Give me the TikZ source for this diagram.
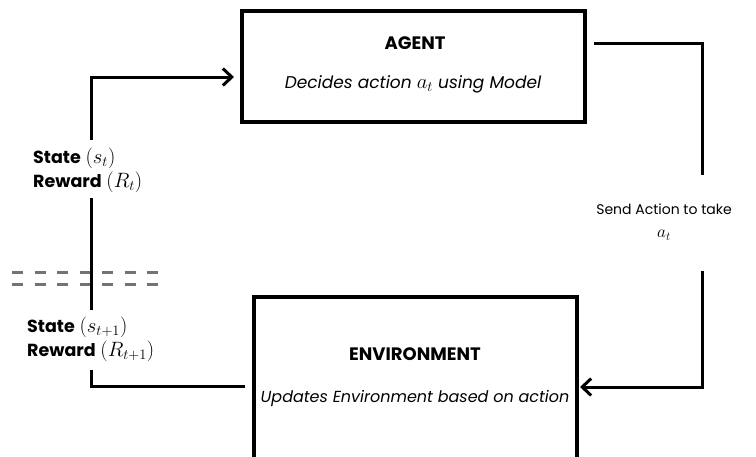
\documentclass[tikz,border=0pt]{standalone}
\usepackage{fontspec}
\setmainfont{Poppins}
\usetikzlibrary{arrows.meta}
\newcommand\mbig[1]{{\fontsize{21}{24}\selectfont$#1$}}
\newcommand\msmall[1]{{\fontsize{17}{23}\selectfont$#1$}}
\begin{document}
\begin{tikzpicture}[x=1pt,y=-1pt,
  box/.style={draw,line width=3.2pt,rectangle,inner sep=0pt},
  conn/.style={line width=3pt},
  arr/.style={conn,-{Straight Barb[length=9pt,width=17pt,line width=3pt]}},
  lbl/.style={font=\fontsize{17.5}{24}\selectfont,inner sep=0pt},
  dsh/.style={draw=black!55,line width=3pt,dash pattern=on 11pt off 11.5pt}]
\useasboundingbox (0,0) rectangle (756,456);
\clip (0,0) rectangle (756,456);
% boxes
\node[box,minimum width=343pt,minimum height=111pt] (agent) at (413.5,66.5) {};
\node[box,minimum width=323pt,minimum height=190pt] (env) at (415.5,392) {};
% texts
\node[lbl,font=\fontsize{18}{20}\selectfont\bfseries] (agentT) at (415,43) {AGENT};
\node[lbl,font=\fontsize{17}{20}\selectfont\itshape] (agentD) at (413,84) {Decides action \mbig{a_t} using Model};
\node[lbl,font=\fontsize{18}{20}\selectfont\bfseries] (envT) at (415,354) {ENVIRONMENT};
\node[lbl,font=\fontsize{16}{20}\selectfont\itshape] (envD) at (415,398) {Updates Environment based on action};
\node[lbl,align=center,font=\fontsize{14}{23}\selectfont] (send) at (664,222) {Send Action to take\\\msmall{a_t}};
\node[lbl,align=left,anchor=west] (st) at (33,170) {\textbf{State} \mbig{(s_t)}\\\textbf{Reward} \mbig{(R_t)}};
\node[lbl,align=left,anchor=west] (st1) at (27,339) {\textbf{State} \mbig{(s_{t+1})}\\\textbf{Reward} \mbig{(R_{t+1})}};
% coordinates
\coordinate (r1) at (594,43);
\coordinate (r2) at (702,175);
\coordinate (r3) at (702,271);
\coordinate (r4) at (580,387);
\coordinate (l1) at (245,386);
\coordinate (l2) at (91,370);
\coordinate (l3) at (91,310);
\coordinate (l4) at (91,198);
\coordinate (l5) at (91,140);
\coordinate (l6) at (234,77);
% dashed
\draw[dsh] (12,272) -- (168,272);
\draw[dsh] (12,284) -- (168,284);
% connectors
\draw[conn] (r1) -| (r2);
\draw[arr] (r3) |- (r4);
\draw[conn] (l1) -| (l2);
\draw[conn] (l3) -- (l4);
\draw[arr] (l5) |- (l6);
\end{tikzpicture}
\end{document}
